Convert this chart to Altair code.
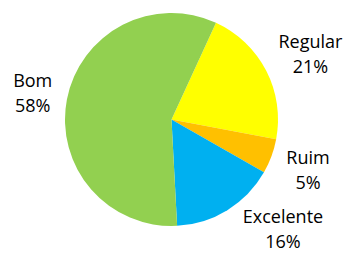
import math
import altair as alt
import pandas as pd

categories = ["Regular", "Ruim", "Excelente", "Bom"]
values = [21.1, 5.3, 15.9, 57.7]
colors = ["#FFFF00", "#FFC000", "#00B0F0", "#92D050"]

df = pd.DataFrame({"cat": categories, "value": values, "order": list(range(len(categories)))})

START = math.radians(24.7)
CX, CY, R = 163.5, 111.5, 106.5
LH = 25

# label placement tweaks (style only)
label_adj = {"Regular": 2.55, "Ruim": 0.6, "Excelente": -13.6, "Bom": -0.7}
label_r = {"Regular": 153, "Ruim": 146, "Excelente": 157, "Bom": 141}

def lookup_expr(d):
    expr = "0"
    for k, v in d.items():
        expr = f"datum.cat === '{k}' ? {v} : ({expr})"
    return expr

base = alt.Chart(df)

pie = base.mark_arc(outerRadius=R).encode(
    theta=alt.Theta("value:Q", stack=True,
                    scale=alt.Scale(range=[START, START + 2 * math.pi])),
    order=alt.Order("order:Q"),
    color=alt.Color("cat:N", scale=alt.Scale(domain=categories, range=colors), legend=None),
    x=alt.value(CX),
    y=alt.value(CY),
)

labels = base.transform_joinaggregate(
    total="sum(value)"
).transform_window(
    cum="sum(value)", sort=[alt.SortField("order")]
).transform_calculate(
    mid="(datum.cum - datum.value / 2) / datum.total",
    ang=f"{START} + 2 * PI * datum.mid + ({lookup_expr(label_adj)}) * PI / 180",
    rad=lookup_expr(label_r),
    label="datum.cat + '\\n' + format(datum.value / datum.total, '.0%')",
).mark_text(
    font="Open Sans", fontSize=18, lineBreak="\n", lineHeight=LH, dy=-LH / 2,
    align="center", baseline="middle", color="#000000",
).encode(
    theta=alt.Theta("ang:Q", scale=None),
    radius=alt.Radius("rad:Q", scale=None),
    text="label:N",
    x=alt.value(CX),
    y=alt.value(CY),
)

chart = alt.layer(pie, labels).properties(
    width=336, height=247, padding=0, autosize="none"
).configure_view(stroke=None)

chart.save("out.html", embed_options={"renderer": "svg", "actions": False})
